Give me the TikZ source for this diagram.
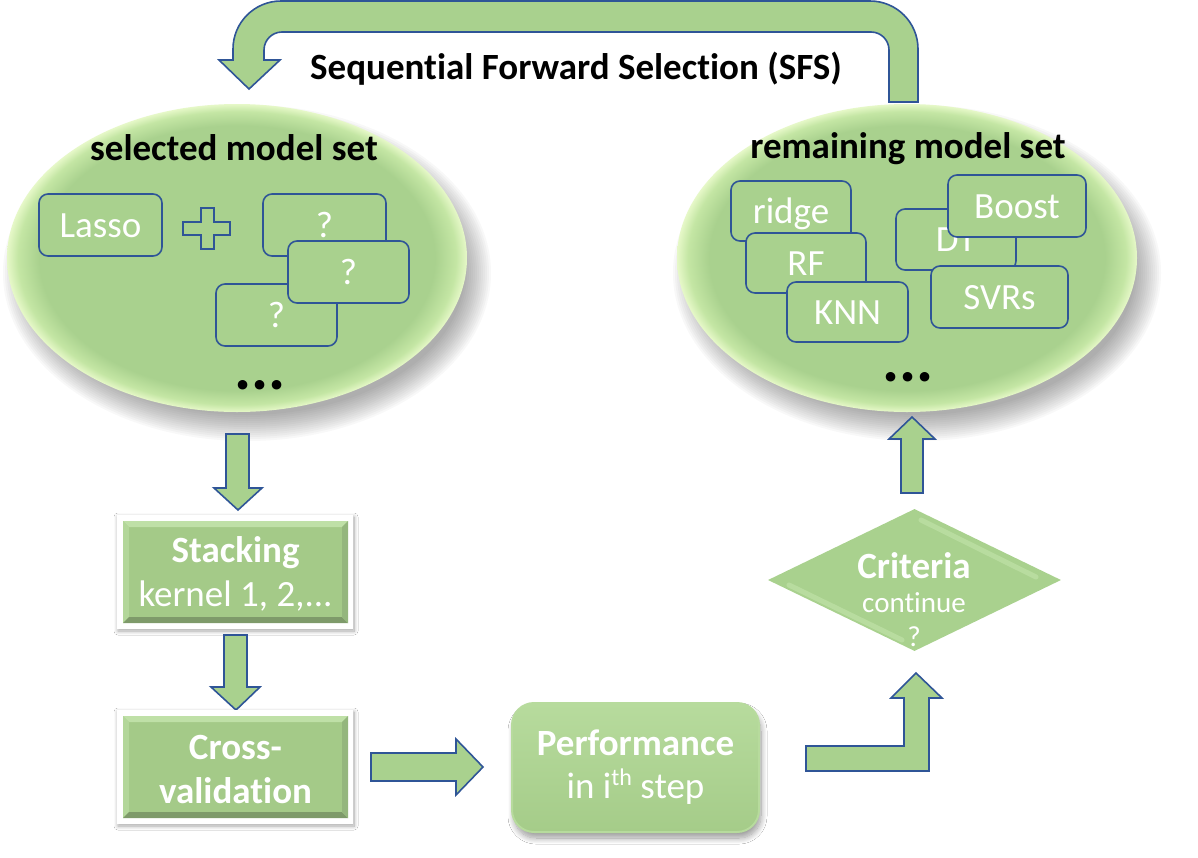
\documentclass[tikz,border=0pt]{standalone}
\usepackage{fontspec}
\setmainfont{Carlito}[RawFeature={-liga;-clig;-calt}]
\usetikzlibrary{shapes.geometric,shadows.blur}
\definecolor{gA}{HTML}{A9D18E}
\definecolor{gL}{HTML}{E6F8C8}
\definecolor{gM}{HTML}{C4E6A4}
\definecolor{gIn}{HTML}{A4CA88}
\definecolor{bB}{HTML}{2F5597}
\definecolor{bevTop}{HTML}{BFE0A7}
\definecolor{bevLeft}{HTML}{B3D79A}
\definecolor{bevBot}{HTML}{7E9A6A}
\definecolor{bevRight}{HTML}{94B67D}
\definecolor{pfTop}{HTML}{B7DB9D}
\definecolor{pfBot}{HTML}{A5CC89}
\definecolor{hiL}{HTML}{C6E6AE}
\pgfdeclareradialshading{setglow}{\pgfpoint{0bp}{0bp}}{color(0bp)=(gA); color(21.5bp)=(gA); color(23.8bp)=(gM); color(25bp)=(gL); color(50bp)=(gL)}
\newcommand\bevelpanel[4]{%
 \fill[gIn] (#1,#2) rectangle (#3,#4);
 \fill[bevTop] (#1,#2) -- (#3,#2) -- ({#3-6},{#2+6}) -- ({#1+6},{#2+6}) -- cycle;
 \fill[bevLeft] (#1,#2) -- ({#1+6},{#2+6}) -- ({#1+6},{#4-6}) -- (#1,#4) -- cycle;
 \fill[bevBot] (#1,#4) -- (#3,#4) -- ({#3-6},{#4-6}) -- ({#1+6},{#4-6}) -- cycle;
 \fill[bevRight] (#3,#2) -- (#3,#4) -- ({#3-6},{#4-6}) -- ({#3-6},{#2+6}) -- cycle;
}
\newcommand\softshadow[4]{% cx cy rx ry
 \foreach \k in {0,...,13}{%
   \fill[black!75, opacity=0.035] ({#1+10},{#2+15}) ellipse[x radius={#3+14-2*\k}, y radius={#4+14-2*\k}];
 }%
}
\tikzset{
  blockarrow/.style={fill=gA, draw=bB, line width=1.6pt, line join=miter},
  modelbox/.style={rectangle, rounded corners=9pt, draw=bB, line width=1.6pt, fill=gA, text=white,
    font=\fontsize{37}{44}\selectfont, text height=24pt, text depth=0pt, inner sep=0pt},
  setellipse/.style={ellipse, inner sep=0pt, minimum width=460pt, minimum height=308pt, shading=setglow},
  header/.style={font=\fontsize{37}{44}\selectfont\bfseries, text=black, inner sep=0pt, text height=24pt, text depth=0pt},
  frame/.style={rectangle, fill=white, inner sep=0pt, minimum width=236pt, minimum height=114pt,
    blur shadow={shadow xshift=1pt, shadow yshift=-2pt, shadow blur radius=4pt, shadow blur steps=12, shadow opacity=35}},
  steptext/.style={text=white, align=center, font=\fontsize{37}{44}\selectfont, inner sep=0pt},
  perfbox/.style={rectangle, rounded corners=22pt, top color=pfTop, bottom color=pfBot, draw=pfTop, line width=2pt,
    minimum width=247pt, minimum height=129pt, inner sep=0pt, text=white, align=center,
    font=\fontsize{37}{43}\selectfont,
    blur shadow={shadow xshift=2pt, shadow yshift=-6pt, shadow blur radius=6pt, shadow blur steps=15, shadow opacity=40}},
  dotstext/.style={font=\fontsize{64}{64}\selectfont\bfseries, text=black, inner sep=0pt},
  bevelhi/.style={draw=hiL, line width=5pt, opacity=0.55, line cap=round},
}
\begin{document}
\begin{tikzpicture}[x=1pt,y=-1pt]
\fill[white] (0,0) rectangle (1198,857);
\useasboundingbox (0,0) rectangle (1198,857);

% feedback U-turn arrow
\draw[blockarrow] (918,102) -- (918,49) arc[start angle=0,end angle=-90,radius=48] -- (281,1)
  arc[start angle=-90,end angle=-180,radius=48] -- (233,60) -- (219,60) -- (249,89) -- (280,60) -- (264,60) -- (264,50)
  arc[start angle=180,end angle=270,radius=18] -- (871,32) arc[start angle=270,end angle=360,radius=18] -- (889,102) -- cycle;
\node[header] (sfs) at (576,67) {Sequential Forward Selection (SFS)};

% model sets
\softshadow{237}{258}{230}{154}
\softshadow{907}{258}{230}{154}
\node[setellipse] (selset) at (237,258) {};
\node[setellipse] (remset) at (907,258) {};
\node[header] (seltitle) at (234,148) {selected model set};
\node[header] (remtitle) at (908,146) {remaining model set};

% selected models
\node[modelbox, minimum width=123pt, minimum height=62pt] (lasso) at (100.5,225) {Lasso};
\draw[blockarrow] (201,208) -- (214,208) -- (214,222) -- (230,222) -- (230,235) -- (214,235) -- (214,249) -- (201,249)
  -- (201,235) -- (183,235) -- (183,222) -- (201,222) -- cycle;
\node[modelbox, minimum width=123pt, minimum height=62pt] (qa) at (324.5,225) {?};
\node[modelbox, minimum width=121pt, minimum height=62pt] (qc) at (276.5,315) {?};
\node[modelbox, minimum width=121pt, minimum height=62pt] (qb) at (348.5,272) {?};
\node[dotstext] (ldots) at (260,385) {...};

% remaining models
\node[modelbox, minimum width=120pt, minimum height=60pt] (ridge) at (791,211) {ridge};
\node[modelbox, minimum width=120pt, minimum height=60pt] (rf) at (806,263) {RF};
\node[modelbox, minimum width=121pt, minimum height=60pt] (knn) at (847.5,312) {KNN};
\node[modelbox, minimum width=120pt, minimum height=61pt] (dt) at (956,239.5) {DT};
\node[modelbox, minimum width=138pt, minimum height=62pt] (boost) at (1017,206) {Boost};
\node[modelbox, minimum width=137pt, minimum height=62pt] (svr) at (999.5,297) {SVRs};
\node[dotstext] (rdots) at (908,377) {...};

% left column
\draw[blockarrow] (226,434) -- (249,434) -- (249,488) -- (262,488) -- (238,510) -- (214,488) -- (226,488) -- cycle;
\node[frame] (stack) at (235,572) {};
\bevelpanel{123}{521}{348}{623}
\node[steptext] (stacktxt) at (235.5,574) {\textbf{Stacking}\\kernel 1, 2,...};

\draw[blockarrow] (224,635) -- (247,635) -- (247,687) -- (260,687) -- (236,710) -- (211,687) -- (224,687) -- cycle;
\node[frame] (cv) at (235,767) {};
\bevelpanel{123}{716}{348}{818}
\node[steptext] (cvtxt) at (235.5,769) {\textbf{Cross-}\\\textbf{validation}};

\draw[blockarrow] (371,753) -- (456,753) -- (456,739) -- (483,767) -- (456,795) -- (456,781) -- (371,781) -- cycle;

\node[perfbox] (perf) at (635.5,767.5) {\textbf{Performance}\\in i\raisebox{13pt}{\fontsize{24}{24}\selectfont th} step};

% decision
\draw[blockarrow] (806,746) -- (904,746) -- (904,698) -- (891,698) -- (916,673) -- (942,698) -- (929,698) -- (929,771) -- (806,771) -- cycle;
\node[diamond, fill=gA, minimum width=293pt, minimum height=142pt, inner sep=0pt, shape aspect=2.06] (crit) at (914.5,580) {};
\draw[bevelhi] (921,520) -- (1036,577);
\draw[bevelhi] (789,585) -- (902,640);
\node[text=white, align=center, inner sep=0pt, font=\fontsize{29}{34}\selectfont] (crittxt) at (914,600)
  {{\fontsize{37}{34}\selectfont\bfseries Criteria}\\continue\\?};
\draw[blockarrow] (901,493) -- (901,439) -- (889,439) -- (912,417) -- (935,439) -- (923,439) -- (923,493) -- cycle;
\end{tikzpicture}
\end{document}
